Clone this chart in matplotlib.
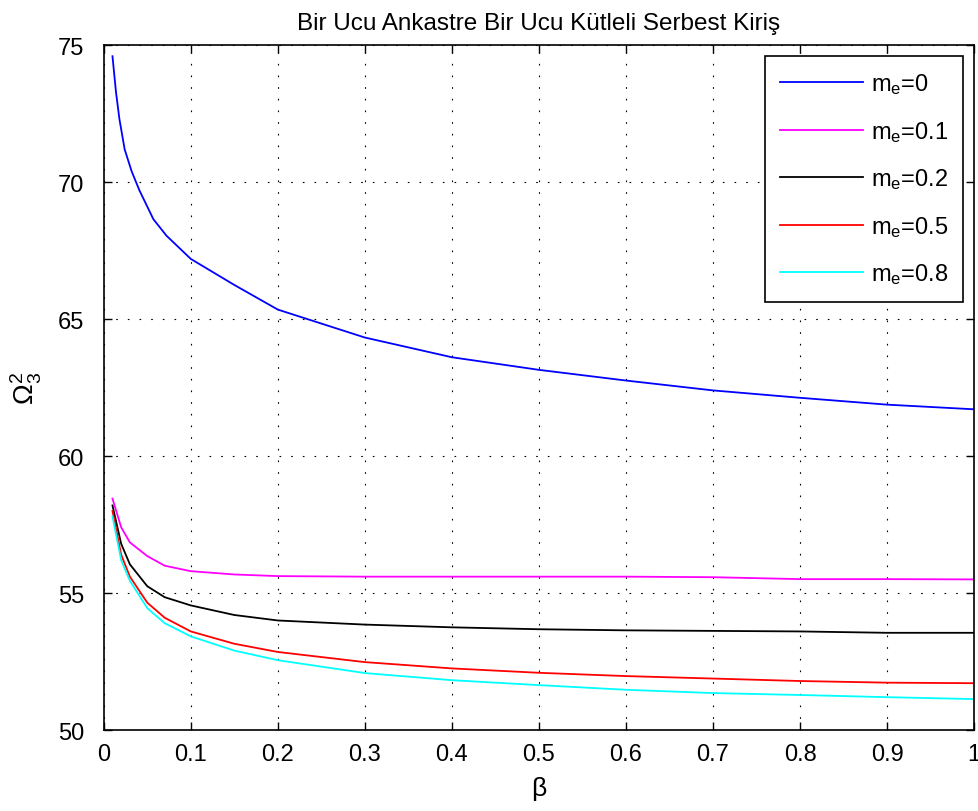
import matplotlib
matplotlib.use("Agg")
import matplotlib.pyplot as plt
import numpy as np

plt.rcParams['font.family'] = ['Liberation Sans', 'DejaVu Sans']
plt.rcParams['mathtext.fontset'] = 'custom'
plt.rcParams['mathtext.rm'] = 'Liberation Sans'
plt.rcParams['mathtext.it'] = 'Liberation Sans'

# values
beta_m0 = [0.01, 0.014, 0.018, 0.024, 0.032, 0.041, 0.057, 0.072, 0.1, 0.15, 0.2,
           0.3, 0.4, 0.5, 0.6, 0.7, 0.8, 0.9, 1.0]
omega_m0 = [74.6, 73.3, 72.3, 71.2, 70.4, 69.7, 68.65, 68.05, 67.2, 66.25, 65.35,
            64.33, 63.61, 63.15, 62.76, 62.4, 62.13, 61.88, 61.71]

beta = [0.01, 0.02, 0.03, 0.05, 0.07, 0.1, 0.15, 0.2, 0.3, 0.4, 0.5, 0.6, 0.7, 0.8, 0.9, 1.0]
omega_m01 = [58.45, 57.4, 56.85, 56.35, 56.0, 55.8, 55.68, 55.62, 55.6, 55.6, 55.6, 55.6,
             55.58, 55.51, 55.51, 55.5]
omega_m02 = [58.2, 56.8, 56.05, 55.25, 54.85, 54.55, 54.2, 54.0, 53.85, 53.75, 53.68, 53.64,
             53.62, 53.6, 53.55, 53.55]
omega_m05 = [58.0, 56.4, 55.6, 54.65, 54.1, 53.6, 53.15, 52.85, 52.48, 52.25, 52.09, 51.97,
             51.88, 51.79, 51.73, 51.71]
omega_m08 = [57.8, 56.2, 55.45, 54.45, 53.9, 53.42, 52.9, 52.55, 52.08, 51.82, 51.64, 51.47,
             51.35, 51.28, 51.2, 51.13]

labels = ['$m_e$=0', '$m_e$=0.1', '$m_e$=0.2', '$m_e$=0.5', '$m_e$=0.8']
colors = ['#0000ff', '#ff00ff', '#000000', '#ff0000', '#00ffff']

fig = plt.figure(figsize=(9.79, 8.12), dpi=100)
ax = fig.add_axes([0.106, 0.0997, 0.889, 0.8433])

ax.plot(beta_m0, omega_m0, color=colors[0], lw=1.3, label=labels[0])
for y, c, lab in zip([omega_m01, omega_m02, omega_m05, omega_m08], colors[1:], labels[1:]):
    ax.plot(beta, y, color=c, lw=1.3, label=lab)

ax.set_xlim(0, 1)
ax.set_ylim(50, 75)
ax.set_xticks(np.arange(0, 1.01, 0.1))
ax.set_xticklabels(['0', '0.1', '0.2', '0.3', '0.4', '0.5', '0.6', '0.7', '0.8', '0.9', '1'])
ax.set_yticks(np.arange(50, 76, 5))
ax.tick_params(direction='in', top=True, right=True, length=6, width=1, labelsize=17)
ax.tick_params(axis='x', pad=9)
ax.tick_params(axis='y', pad=14)
for s in ax.spines.values():
    s.set_linewidth(1.2)

ax.grid(True, color='black', linestyle=(0, (1.5, 9)), linewidth=0.8)

ax.set_title('Bir Ucu Ankastre Bir Ucu Kütleli Serbest Kiriş', fontsize=17.5, pad=12)
ax.set_xlabel('β', fontsize=19, labelpad=8)
ax.set_ylabel(r'$\Omega_3^2$', fontsize=20, labelpad=10)

leg = ax.legend(loc='upper right', fontsize=17, handlelength=3.5, labelspacing=0.96,
                borderaxespad=0.45, fancybox=False, framealpha=1, edgecolor='black',
                borderpad=0.65, handletextpad=0.35)
leg.get_frame().set_linewidth(1.2)

fig.savefig('out.png', dpi=100)
